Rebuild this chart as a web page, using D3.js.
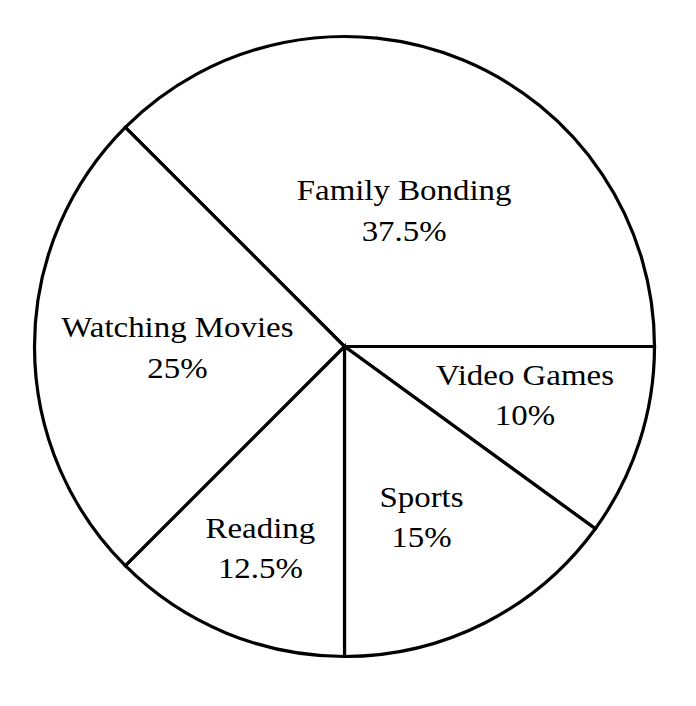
<!DOCTYPE html>
<html>
<head>
<meta charset="utf-8">
<script src="https://cdn.jsdelivr.net/npm/d3@7"></script>
<style>
  html, body { margin: 0; padding: 0; background: #fff; }
  svg { display: block; }
</style>
</head>
<body>
<svg id="chart" width="696" height="706"></svg>
<script>
const categories = ["Family Bonding", "Video Games", "Sports", "Reading", "Watching Movies"];
const percents = [37.5, 10, 15, 12.5, 25];
const percentLabels = ["37.5%", "10%", "15%", "12.5%", "25%"];

// label placement (layout only): radius fraction and angle nudge (deg)
const labelRadius = [0.45, 0.612, 0.633, 0.734, 0.54];
const labelNudge = [2.8, 0, 3.9, -0.8, -3.7];

const W = 696, H = 706;
const cx = 344.5, cy = 346.5, R = 310;

const svg = d3.select("#chart");
const g = svg.append("g").attr("transform", `translate(${cx},${cy})`);

const data = categories.map((c, i) => ({ name: c, value: percents[i], label: percentLabels[i], i }));

const pie = d3.pie().value(d => d.value).sort(null)
  .startAngle(-Math.PI / 4).endAngle(-Math.PI / 4 + 2 * Math.PI);
const arc = d3.arc().innerRadius(0).outerRadius(R);

const arcs = pie(data);

g.selectAll("path.slice")
  .data(arcs)
  .join("path")
  .attr("class", "slice")
  .attr("d", arc)
  .attr("fill", "#fff")
  .attr("stroke", "#000")
  .attr("stroke-width", 3.2)
  .attr("stroke-linejoin", "miter");

const lineGap = 40.5;
const labels = g.selectAll("g.label")
  .data(arcs)
  .join("g")
  .attr("class", "label")
  .attr("transform", d => {
    const a = (d.startAngle + d.endAngle) / 2 + labelNudge[d.data.i] * Math.PI / 180;
    const r = R * labelRadius[d.data.i];
    return `translate(${r * Math.sin(a)},${-r * Math.cos(a)}) scale(1.135,1)`;
  });

labels.append("text")
  .attr("text-anchor", "middle")
  .attr("y", -lineGap / 2)
  .attr("font-family", "'Liberation Serif', 'Times New Roman', serif")
  .attr("font-size", 29)
  .attr("fill", "#000")
  .text(d => d.data.name);

labels.append("text")
  .attr("text-anchor", "middle")
  .attr("y", lineGap / 2)
  .attr("font-family", "'Liberation Serif', 'Times New Roman', serif")
  .attr("font-size", 29)
  .attr("fill", "#000")
  .text(d => d.data.label);
</script>
</body>
</html>
